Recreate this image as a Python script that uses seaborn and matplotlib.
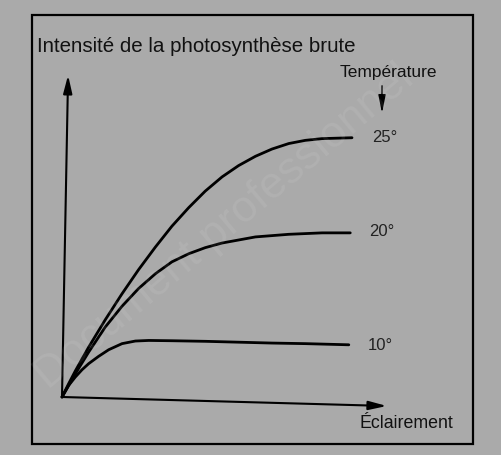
import pandas as pd
import matplotlib.pyplot as plt
import seaborn as sns
from matplotlib.patches import Rectangle, FancyArrowPatch

# Values (arbitrary units, origin at the axes corner)
x_25 = [0, 2.3, 4.6, 9.2, 14.9, 20.7, 26.4, 32.2, 37.9, 43.7, 49.4, 55.2, 60.9, 66.7, 72.4, 78.2, 83.9, 89.7, 100]
y_25 = [0, 4.6, 9.0, 17.2, 26.6, 35.6, 43.9, 51.7, 58.9, 65.3, 71.0, 75.9, 79.8, 83.0, 85.5, 87.4, 88.5, 89.1, 89.4]

x_20 = [0, 4.6, 9.2, 14.9, 20.7, 26.4, 32.2, 37.9, 43.7, 49.4, 55.2, 66.7, 78.2, 89.7, 99.4]
y_20 = [0, 8.0, 15.5, 24.1, 31.3, 37.4, 42.5, 46.6, 49.4, 51.5, 53.1, 55.2, 56.1, 56.6, 56.6]

x_10 = [0, 2.3, 4.6, 6.9, 9.2, 12.6, 16.1, 20.7, 25.3, 29.9, 37.9, 49.4, 60.9, 72.4, 83.9, 98.9]
y_10 = [0, 4.0, 6.9, 9.4, 11.5, 14.0, 16.3, 18.4, 19.3, 19.5, 19.4, 19.2, 18.9, 18.6, 18.4, 18.0]

temperatures = ["25°", "20°", "10°"]

BG = "#aaaaaa"
W, H = 502, 455
OX, OY, S = 62, 397, 2.9  # pixel position of origin, pixels per unit


def fx(px):
    return px / W


def fy(py):
    return 1 - py / H


df = pd.concat([
    pd.DataFrame({"eclairement": x_25, "intensite": y_25, "temp": "25°"}),
    pd.DataFrame({"eclairement": x_20, "intensite": y_20, "temp": "20°"}),
    pd.DataFrame({"eclairement": x_10, "intensite": y_10, "temp": "10°"}),
])

sns.set_theme(style="white")
plt.rcParams["font.family"] = ["Liberation Sans", "DejaVu Sans"]

fig = plt.figure(figsize=(W / 100, H / 100), dpi=100, facecolor=BG)
ax = fig.add_axes([0, 0, 1, 1])
ax.set_facecolor(BG)

# faint scan watermark (drawn first, behind everything)
fig.text(fx(225), fy(227), "Document professionnel", rotation=40, ha="center", va="center",
         fontsize=32, color="white", alpha=0.08)

sns.lineplot(data=df, x="eclairement", y="intensite", hue="temp",
             palette={t: "black" for t in temperatures}, sort=False,
             estimator=None, lw=2.0, legend=False, ax=ax)

ax.set_xlim(-OX / S, (W - OX) / S)
ax.set_ylim(-(H - OY) / S, OY / S)
ax.axis("off")

# axes drawn as arrows (the scan is slightly rotated)
arrow = dict(arrowstyle="-|>,head_length=0.9,head_width=0.22", color="black",
             lw=1.5, shrinkA=0, shrinkB=0)
ax.annotate("", xy=(112, -3.1), xytext=(0, 0), arrowprops=arrow)
ax.annotate("", xy=(2.1, 111), xytext=(0, 0), arrowprops=arrow)

# end-of-curve labels
label_px = {"25°": (385, 138), "20°": (382, 232), "10°": (380, 345)}
for t in temperatures:
    px, py = label_px[t]
    fig.text(fx(px), fy(py), t, ha="center", va="center", fontsize=12, color="#222222")

fig.text(fx(37), fy(46), "Intensité de la photosynthèse brute", ha="left", va="center",
         fontsize=14.8, color="#111111")
fig.text(fx(388), fy(73), "Température", ha="center", va="center", fontsize=12.5, color="#111111")
fig.text(fx(406), fy(424), "Éclairement", ha="center", va="center", fontsize=12.8, color="#111111")

# small arrow under "Température"
fig.add_artist(FancyArrowPatch(
    (fx(382), fy(83)), (fx(382), fy(116)), transform=fig.transFigure,
    arrowstyle="-|>,head_length=0.9,head_width=0.18", color="black", lw=1.0,
    mutation_scale=12))

# outer frame
fig.add_artist(Rectangle((fx(32), fy(444)), fx(473) - fx(32), fy(15) - fy(444),
                         transform=fig.transFigure, fill=False, ec="black", lw=1.6))

fig.savefig("out.png", dpi=100, facecolor=BG)
